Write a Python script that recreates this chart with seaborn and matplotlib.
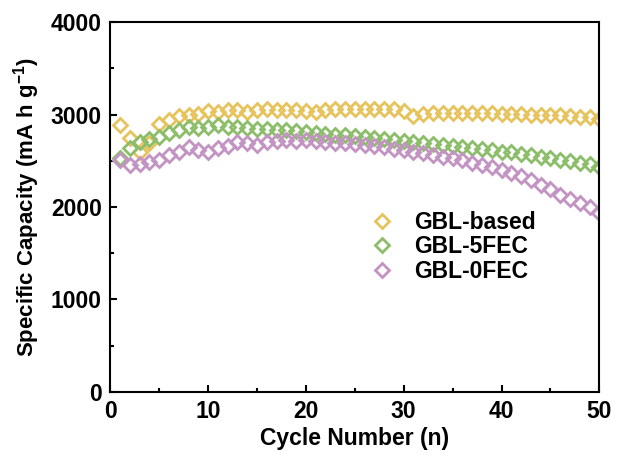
import matplotlib
matplotlib.use("Agg")
import matplotlib.pyplot as plt
from matplotlib.ticker import MultipleLocator
import seaborn as sns

# cycle numbers and capacity (mA h g-1)
cycles = list(range(1, 51))

gbl_based = [2890, 2745, 2600, 2690, 2895, 2940, 2985, 2995, 3005, 3035,
             3030, 3045, 3045, 3025, 3050, 3055, 3050, 3045, 3050, 3040,
             3030, 3050, 3060, 3055, 3060, 3055, 3060, 3055, 3055, 3040,
             2985, 3010, 3015, 3020, 3015, 3020, 3015, 3020, 3015, 3005,
             3010, 3005, 3000, 3000, 2995, 2990, 2985, 2975, 2970, 2955]

gbl_5fec = [2525, 2635, 2705, 2740, 2760, 2795, 2830, 2865, 2850, 2865,
            2885, 2870, 2860, 2855, 2845, 2840, 2835, 2830, 2820, 2810,
            2800, 2790, 2780, 2775, 2765, 2755, 2745, 2735, 2720, 2710,
            2700, 2690, 2680, 2670, 2660, 2650, 2640, 2630, 2620, 2600,
            2590, 2575, 2560, 2545, 2530, 2510, 2495, 2475, 2460, 2435]

gbl_0fec = [2510, 2455, 2460, 2490, 2510, 2560, 2600, 2650, 2620, 2600,
            2635, 2655, 2700, 2690, 2670, 2700, 2710, 2720, 2715, 2720,
            2710, 2700, 2695, 2690, 2680, 2670, 2660, 2645, 2630, 2615,
            2595, 2580, 2560, 2545, 2525, 2505, 2480, 2455, 2430, 2400,
            2370, 2330, 2290, 2240, 2190, 2135, 2090, 2045, 2000, 1935]

labels = ["GBL-based", "GBL-5FEC", "GBL-0FEC"]
colors = ["#E6C35C", "#8CBE6A", "#C393C3"]

sns.set_style("ticks")
plt.rcParams["font.family"] = ["Liberation Sans", "DejaVu Sans"]
plt.rcParams["font.weight"] = "bold"
plt.rcParams["text.color"] = "black"
plt.rcParams["axes.labelcolor"] = "black"
plt.rcParams["xtick.color"] = "black"
plt.rcParams["ytick.color"] = "black"
plt.rcParams["mathtext.fontset"] = "custom"
plt.rcParams["mathtext.bf"] = "Liberation Sans:bold"

fig, ax = plt.subplots(figsize=(6.23, 4.59), dpi=100)
fig.subplots_adjust(left=0.177, right=0.962, top=0.952, bottom=0.146)

for vals, lab, col in zip([gbl_based, gbl_5fec, gbl_0fec], labels, colors):
    sns.lineplot(x=cycles, y=vals, ax=ax, label=lab, linestyle="",
                 marker="D", markersize=7, markerfacecolor="none",
                 markeredgecolor=col, markeredgewidth=2.0, color=col)

ax.set_xlim(0, 50)
ax.set_ylim(0, 4000)
ax.xaxis.set_major_locator(MultipleLocator(10))
ax.xaxis.set_minor_locator(MultipleLocator(5))
ax.yaxis.set_major_locator(MultipleLocator(1000))
ax.yaxis.set_minor_locator(MultipleLocator(500))
ax.tick_params(which="both", direction="in", width=1.5, labelsize=16.5,
               top=False, right=False, pad=6, colors="black")
ax.tick_params(which="major", length=5)
ax.tick_params(which="minor", length=3)
for sp in ax.spines.values():
    sp.set_visible(True)
    sp.set_linewidth(1.5)
    sp.set_color("black")
for lbl in ax.get_xticklabels() + ax.get_yticklabels():
    lbl.set_fontweight("bold")

ax.set_xlabel("Cycle Number (n)", fontsize=16.5, fontweight="bold",
              labelpad=3, color="black")
ax.set_ylabel("Specific Capacity (mA h g$^{\\mathbf{-1}}$)", fontsize=16,
              fontweight="bold", labelpad=6, color="black")

leg = ax.legend(loc="upper left", bbox_to_anchor=(0.513, 0.515), frameon=False,
                prop={"weight": "bold", "size": 16.5}, handletextpad=0.9,
                labelspacing=0.08, handlelength=1.0, borderaxespad=0)
for t in leg.get_texts():
    t.set_color("black")

fig.savefig("out.png", dpi=100)
